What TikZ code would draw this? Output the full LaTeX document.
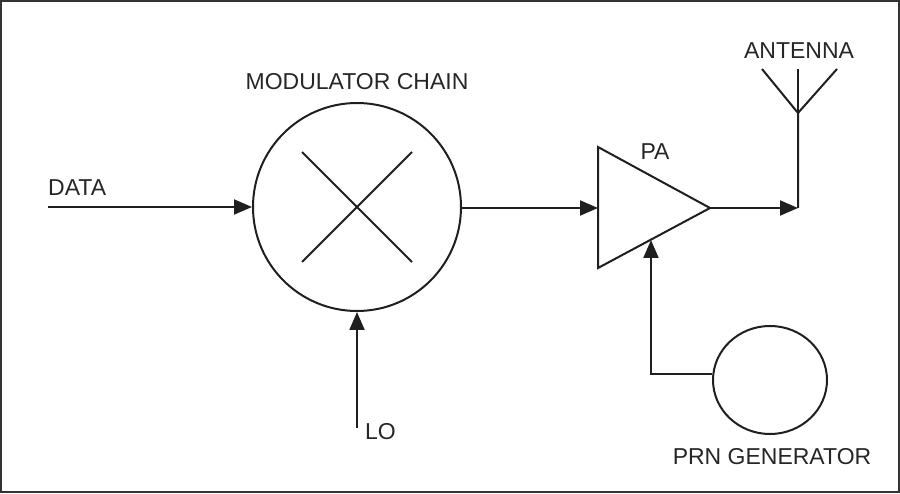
\documentclass[tikz,border=0pt]{standalone}
\usepackage{fontspec}
\setmainfont{Liberation Sans}
\usetikzlibrary{arrows.meta,calc,shapes.geometric}
\begin{document}
\begin{tikzpicture}[x=1pt,y=-1pt,
  wire/.style={line width=2pt,draw=black!88},
  arr/.style={wire,-{Triangle[length=18pt,width=15pt]}},
  lbl/.style={inner sep=0pt,font=\fontsize{23}{27}\selectfont,text=black!85},
  blk/.style={draw=black!88,line width=2pt,inner sep=0pt}]
\useasboundingbox (0,0) rectangle (900,494);
\draw[line width=2.5pt,draw=black!80] (1.2,1) rectangle (898.8,492.2);
% modulator
\node[blk,circle,minimum size=208pt] (mod) at (357,207) {};
\draw[wire,line width=1.8pt] ($(mod.center)+(-55,-55)$) -- ($(mod.center)+(55,55)$);
\draw[wire,line width=1.8pt] ($(mod.center)+(-55,55)$) -- ($(mod.center)+(55,-55)$);
\node[lbl] (modlbl) at (357,82) {MODULATOR CHAIN};
% data input
\coordinate (datain) at (48,207);
\draw[arr] (datain) -- (mod.west);
\node[lbl,anchor=west] (datalbl) at (48,188) {DATA};
% LO input
\coordinate (loin) at (357,428);
\draw[arr] (loin) -- (mod.south);
\node[lbl,anchor=west] (lolbl) at (365,432) {LO};
% PA
\coordinate (patop) at (598,147);
\coordinate (pabot) at (598,268);
\coordinate (paout) at (710,208);
\coordinate (pain) at (598,208);
\draw[wire,line join=miter] (patop) -- (paout) -- (pabot) -- cycle;
\node[lbl] (palbl) at (655,152) {PA};
\draw[arr] (mod.east |- pain) -- (pain);
% antenna
\coordinate (antbase) at (798,208);
\coordinate (antjoint) at (798,113);
\coordinate (antl) at (762,69);
\coordinate (antm) at (798,69);
\coordinate (antr) at (837,69);
\draw[arr] (paout) -- (antbase);
\draw[wire] (antbase) -- (antjoint) -- (antl);
\draw[wire] (antjoint) -- (antm);
\draw[wire] (antjoint) -- (antr);
\node[lbl] (antlbl) at (799,51) {ANTENNA};
% PRN generator
\node[blk,ellipse,minimum width=114pt,minimum height=108pt] (prn) at (770,380) {};
\coordinate (fb) at (651,240);
\draw[arr] (prn.174) -| (fb);
\node[lbl] (prnlbl) at (772,457) {PRN GENERATOR};
\end{tikzpicture}
\end{document}
